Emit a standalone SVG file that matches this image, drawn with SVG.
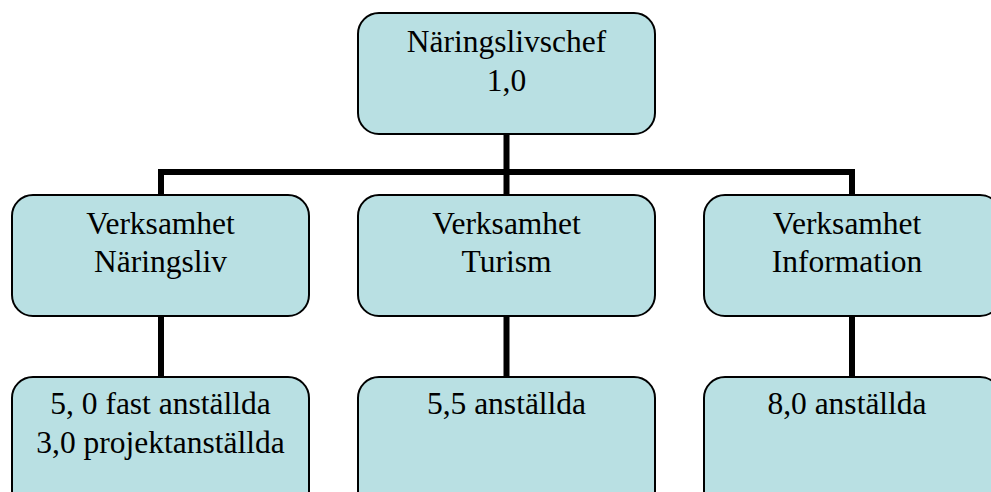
<svg xmlns="http://www.w3.org/2000/svg" width="991" height="492" viewBox="0 0 991 492">
<style>
.box{fill:#b9e0e3;stroke:#000;stroke-width:2}
.con{fill:none;stroke:#000;stroke-width:6}
.t{font-family:'Liberation Serif','Times New Roman',Tinos,'DejaVu Serif',serif;font-size:31.5px;fill:#000;text-anchor:middle}
</style>
<rect width="991" height="492" fill="#fff"/>
<g id="connectors">
<path class="con" d="M506.5 134 V172 M161 172 H852 M161 169 V195 M506.5 172 V195 M852 169 V195"/>
<path class="con" d="M161 316 V377 M506.5 316 V377 M852 316 V377"/>
</g>
<g id="n-chef">
<rect class="box" x="358" y="13" width="297" height="121" rx="21"/>
<text class="t" x="506.5" y="52">Näringslivschef</text>
<text class="t" x="506.5" y="91">1,0</text>
</g>
<g id="n-naringsliv">
<rect class="box" x="12" y="195" width="297" height="121" rx="21"/>
<text class="t" x="160.5" y="234">Verksamhet</text>
<text class="t" x="160.5" y="272">Näringsliv</text>
</g>
<g id="n-turism">
<rect class="box" x="358" y="195" width="297" height="121" rx="21"/>
<text class="t" x="506.5" y="234">Verksamhet</text>
<text class="t" x="506.5" y="272">Turism</text>
</g>
<g id="n-information">
<rect class="box" x="704" y="195" width="297" height="121" rx="21"/>
<text class="t" x="847" y="234">Verksamhet</text>
<text class="t" x="847" y="272">Information</text>
</g>
<g id="n-naringsliv-staff">
<rect class="box" x="12" y="377" width="297" height="140" rx="21"/>
<text class="t" x="160.5" y="414">5, 0 fast anställda</text>
<text class="t" x="160.5" y="453">3,0 projektanställda</text>
</g>
<g id="n-turism-staff">
<rect class="box" x="358" y="377" width="297" height="140" rx="21"/>
<text class="t" x="506.5" y="414">5,5 anställda</text>
</g>
<g id="n-information-staff">
<rect class="box" x="704" y="377" width="297" height="140" rx="21"/>
<text class="t" x="847" y="414">8,0 anställda</text>
</g>
</svg>
